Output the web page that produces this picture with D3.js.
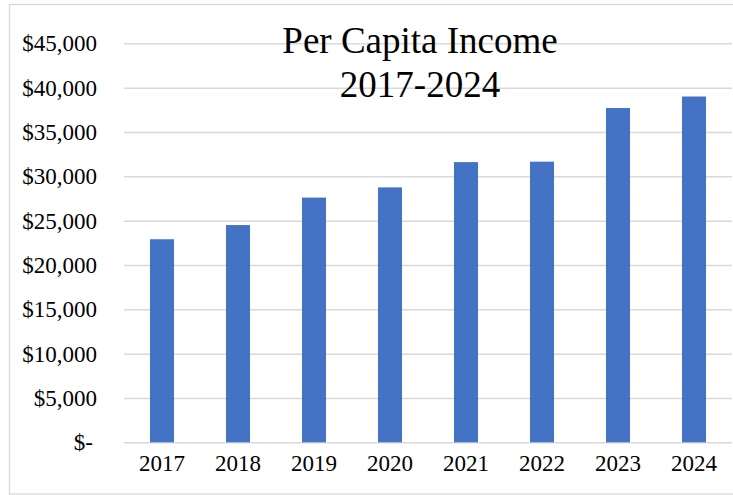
<!DOCTYPE html>
<html lang="en">
<head>
    <meta charset="UTF-8" />
    <title>Per Capita Income 2017-2024</title>
    <script src="https://d3js.org/d3.v7.min.js"></script>
    <style>
        body { margin: 0; background: #fff; }
        svg text { font-family: "Liberation Serif", "Times New Roman", serif; fill: #000; }
    </style>
</head>
<body>
    <script>
        var w = 733;
        var h = 495;

        // data
        var years = ["2017", "2018", "2019", "2020", "2021", "2022", "2023", "2024"];
        var income = [22900, 24500, 27600, 28750, 31600, 31650, 37700, 39000];
        var yTicks = [0, 5000, 10000, 15000, 20000, 25000, 30000, 35000, 40000, 45000];
        var titleLines = ["Per Capita Income", "2017-2024"];

        var plotLeft = 124, plotRight = 732, plotTop = 43.3, plotBottom = 442.3;

        var svg = d3.select("body")
            .append("svg")
            .attr("width", w)
            .attr("height", h);

        // chart border (right edge runs off the picture)
        svg.append("rect")
            .attr("x", 9.5)
            .attr("y", 4.5)
            .attr("width", 740)
            .attr("height", 489.5)
            .attr("fill", "none")
            .attr("stroke", "#d9d9d9")
            .attr("stroke-width", 1.3);

        // Scales
        var xScale = d3.scaleBand()
            .domain(years)
            .range([plotLeft, plotRight])
            .paddingInner(0.684)
            .paddingOuter(0.342);

        var yScale = d3.scaleLinear()
            .domain([0, 45000])
            .range([plotBottom, plotTop]);

        // y axis with gridlines
        var yAxis = d3.axisLeft(yScale)
            .tickValues(yTicks)
            .tickSize(-(plotRight - plotLeft))
            .tickPadding(27)
            .tickFormat(function(d) {
                return d === 0 ? "$-" : "$" + d3.format(",")(d);
            });

        var gy = svg.append("g")
            .attr("transform", "translate(" + plotLeft + ",0)")
            .call(yAxis);
        gy.select(".domain").remove();
        gy.selectAll(".tick line")
            .attr("stroke", "#d9d9d9")
            .attr("stroke-width", 1.5);
        gy.selectAll(".tick text")
            .attr("font-size", 23)
            .attr("font-family", null)
            .attr("dx", function(d) { return d === 0 ? -4 : 0; });

        // title
        svg.append("text")
            .attr("text-anchor", "middle")
            .attr("font-size", 37)
            .selectAll("tspan")
            .data(titleLines)
            .enter()
            .append("tspan")
            .attr("x", 420)
            .attr("y", function(d, i) { return 53 + i * 43.5; })
            .text(function(d) { return d; });

        // bars
        svg.selectAll("rect.bar")
            .data(income)
            .enter()
            .append("rect")
            .attr("class", "bar")
            .attr("x", function(d, i) { return xScale(years[i]); })
            .attr("y", function(d) { return yScale(d); })
            .attr("width", xScale.bandwidth())
            .attr("height", function(d) { return plotBottom - yScale(d); })
            .attr("fill", "#4472c4");

        // x axis labels
        var gx = svg.append("g")
            .attr("transform", "translate(0," + plotBottom + ")")
            .call(d3.axisBottom(xScale).tickSize(0).tickPadding(12));
        gx.select(".domain").remove();
        gx.selectAll(".tick text")
            .attr("font-size", 23)
            .attr("font-family", null);
    </script>
</body>
</html>
